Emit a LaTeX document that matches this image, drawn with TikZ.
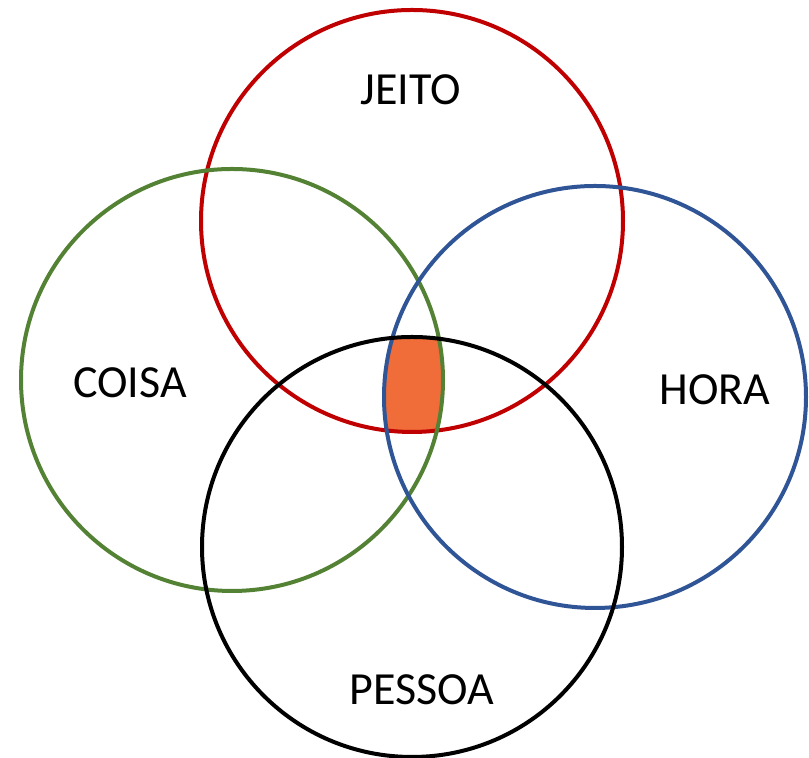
\documentclass[tikz,border=0pt]{standalone}
\usepackage{fontspec}
\setmainfont{Carlito}
\definecolor{jeitored}{RGB}{192,0,0}
\definecolor{coisagreen}{RGB}{84,130,53}
\definecolor{horablue}{RGB}{47,85,151}
\definecolor{centerorange}{RGB}{240,108,56}
\tikzset{
  ring/.style={line width=2pt},
  word/.style={font=\fontsize{23}{28}\selectfont}
}
\begin{document}
\begin{tikzpicture}[x=0.5pt,y=0.5pt]
\useasboundingbox (0,0) rectangle (809,758);
\begin{scope}
\clip (412,537) circle (211);
\clip (232,378) circle (211);
\clip (595,361) circle (211);
\fill[centerorange] (412,211) circle (211);
\end{scope}
\draw[ring,jeitored] (412,537) circle (211);
\draw[ring,coisagreen] (232,378) circle (211);
\draw[ring,horablue] (595,361) circle (211);
\draw[ring,black] (412,211) circle (210);
\node[word] (jeito) at (411,668) {JEITO};
\node[word] (coisa) at (130,375) {COISA};
\node[word] (hora) at (715,368) {HORA};
\node[word] (pessoa) at (422,68) {PESSOA};
\end{tikzpicture}
\end{document}
